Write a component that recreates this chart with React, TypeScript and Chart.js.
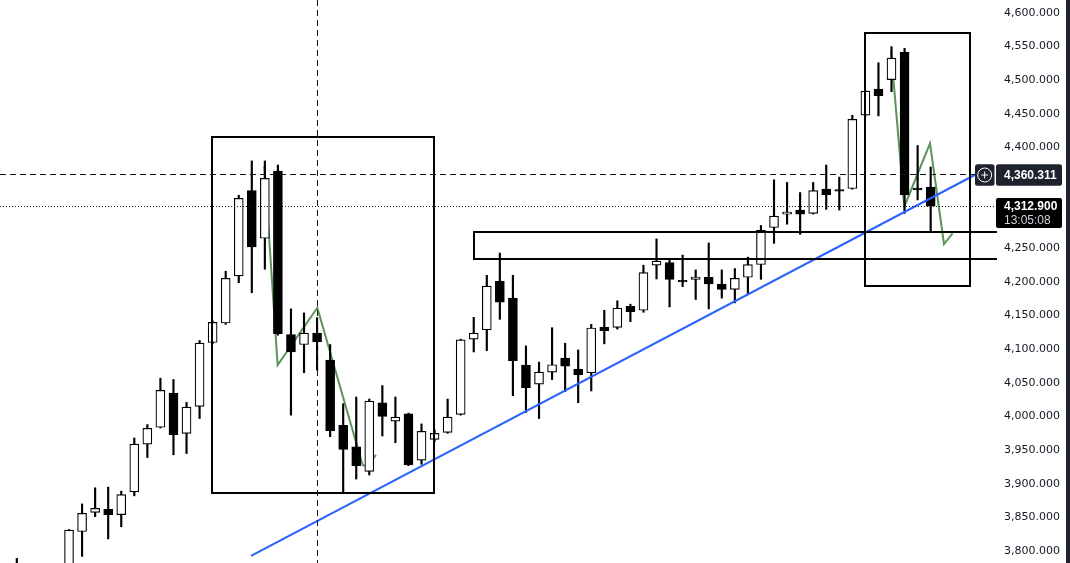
import React, { useEffect, useRef } from 'react';
import { Chart, registerables } from 'chart.js';

Chart.register(...registerables);

// ---- candle data (index 0..70) ----
const opens = [
  3770, 3760, 3750, 3765, 3775, 3829, 3857.5, 3862, 3854, 3888,
  3959, 3984, 4034.5, 3975, 4015, 4110, 4139, 4209, 4336, 4265,
  4365, 4122, 4107, 4124, 4084, 3987, 3955, 3918.5, 4020.5, 3993,
  4004, 3935, 3966, 3976.5, 4003, 4115, 4129, 4201, 4176, 4076.6,
  4048, 4066, 4087, 4070.6, 4065, 4133, 4132.6, 4164, 4158, 4225,
  4229, 4202.5, 4204, 4207, 4197, 4189, 4207, 4226, 4281, 4300.7,
  4307, 4302, 4338, 4337.5, 4339, 4448, 4487, 4501, 4542, 4339.5,
  4341,
];
const highs = [
  3789, 3775, 3772, 3778, 3832, 3870, 3894, 3895, 3889, 3968,
  3988, 4057, 4055, 4021, 4113, 4142, 4216, 4329, 4380, 4380,
  4374, 4160, 4154, 4147, 4107, 4019, 4029, 4026, 4046, 4029,
  4005, 3989, 3980, 4026, 4115, 4147.5, 4210, 4243, 4210, 4105,
  4081, 4132, 4109, 4099, 4137, 4158, 4172, 4167, 4225, 4264,
  4234, 4240, 4218, 4258, 4218, 4220, 4237, 4284, 4352, 4348,
  4333, 4348, 4374, 4356, 4448, 4485, 4526, 4550, 4547.5, 4403,
  4371,
];
const lows = [
  3755, 3740, 3735, 3750, 3765, 3792, 3851, 3818, 3836, 3882,
  3939, 3983, 3943, 3945, 3997, 4108, 4137, 4199, 4184, 4219,
  4121, 4002, 4065, 4069, 3970, 3886, 3907, 3913, 3971, 3961,
  3927, 3929, 3963, 3975, 4002, 4096, 4098, 4144.5, 4031, 4006,
  3997, 4055, 4037, 4020.5, 4038, 4108, 4130, 4141, 4155, 4204.5,
  4163, 4193, 4174, 4160, 4176, 4169, 4181, 4204, 4257.5, 4286,
  4271, 4301, 4308, 4307, 4338, 4447, 4447, 4483, 4302, 4322,
  4274,
];
const closes = [
  3778, 3750, 3765, 3770, 3831, 3856, 3863.5, 3854, 3884, 3959,
  3982.5, 4039, 3973, 4014, 4109, 4140, 4205.5, 4324.5, 4252, 4354,
  4123, 4096, 4124, 4111, 3979, 3951, 3927, 4023, 4000, 3999,
  3928, 3978, 3975, 3999, 4114, 4124, 4194, 4170, 4083, 4043,
  4066, 4077, 4075, 4062, 4131.6, 4127.6, 4161, 4156, 4214, 4231,
  4204, 4200, 4207.4, 4197, 4189, 4205.5, 4226, 4277, 4298, 4304,
  4301, 4336, 4330, 4335, 4442, 4484, 4477, 4533, 4330, 4337,
  4312.9,
];

// ---- price axis ----
const yTicks = [
  3800, 3850, 3900, 3950, 4000, 4050, 4100, 4150, 4200, 4250,
  4300, 4350, 4400, 4450, 4500, 4550, 4600,
];
const priceMin = 3782.16;
const priceMax = 4619.33;
const viewStart = -1.287;
const viewEnd = 75.08;

// ---- drawings (index, price) ----
const trendX = [17.94, 73.52];
const trendY = [3792.6, 4360.6];
const zigzagAX = [18.96, 19.98, 23.02, 26.49, 26.82, 27.51];
const zigzagAY = [4372.5, 4076.6, 4161.8, 3927.9, 3925.7, 3942.8];
const zigzagBX = [66.96, 67.98, 69.95, 71.02, 71.68];
const zigzagBY = [4543.5, 4312, 4406.2, 4256.5, 4272.4];
const boxLeft = [14.95, 35.02, 64.97];
const boxRight: (number | null)[] = [31.96, null, 73.01];
const boxTop = [4415.6, 4274.8, 4570.7];
const boxBottom = [3886.2, 4234.6, 4194.5];
const crosshairIndex = 23;
const crosshairPrice = 4360.311;
const lastPrice = closes[closes.length - 1];
const countdown = '13:05:08';

const fmt = (v: number) =>
  v.toLocaleString('en-US', { minimumFractionDigits: 3, maximumFractionDigits: 3 });

const idx = opens.map((_, i) => i);

function roundRect(ctx: CanvasRenderingContext2D, x: number, y: number, w: number, h: number, r: number) {
  ctx.beginPath();
  ctx.moveTo(x + r, y);
  ctx.lineTo(x + w - r, y);
  ctx.quadraticCurveTo(x + w, y, x + w, y + r);
  ctx.lineTo(x + w, y + h - r);
  ctx.quadraticCurveTo(x + w, y + h, x + w - r, y + h);
  ctx.lineTo(x + r, y + h);
  ctx.quadraticCurveTo(x, y + h, x, y + h - r);
  ctx.lineTo(x, y + r);
  ctx.quadraticCurveTo(x, y, x + r, y);
  ctx.closePath();
}

const overlayPlugin = {
  id: 'overlay',
  afterDatasetsDraw(chart: any) {
    const { ctx, chartArea: ca, scales } = chart;
    const xs = scales.x;
    const ys = scales.y;
    ctx.save();
    ctx.beginPath();
    ctx.rect(ca.left, ca.top, ca.right - ca.left, ca.bottom - ca.top);
    ctx.clip();

    // rectangles
    ctx.strokeStyle = '#000000';
    ctx.lineWidth = 2;
    for (let i = 0; i < boxLeft.length; i++) {
      const l = Math.round(xs.getPixelForValue(boxLeft[i]));
      const rv = boxRight[i];
      const r = rv == null ? ca.right + 10 : Math.round(xs.getPixelForValue(rv));
      const t = Math.round(ys.getPixelForValue(boxTop[i]));
      const b = Math.round(ys.getPixelForValue(boxBottom[i]));
      ctx.strokeRect(l, t, r - l, b - t);
    }

    // crosshair
    ctx.lineWidth = 1;
    ctx.strokeStyle = '#131722';
    ctx.setLineDash([6, 4]);
    const cx = Math.round(xs.getPixelForValue(crosshairIndex)) + 0.5;
    ctx.beginPath();
    ctx.moveTo(cx, ca.top);
    ctx.lineTo(cx, ca.bottom);
    ctx.stroke();
    const cy = Math.round(ys.getPixelForValue(crosshairPrice)) + 0.5;
    ctx.beginPath();
    ctx.moveTo(ca.left, cy);
    ctx.lineTo(ca.right - 22, cy);
    ctx.stroke();

    // last price dotted line
    ctx.setLineDash([1, 2]);
    const ly = Math.round(ys.getPixelForValue(lastPrice)) + 0.5;
    ctx.beginPath();
    ctx.moveTo(ca.left, ly);
    ctx.lineTo(ca.right - 2, ly);
    ctx.stroke();
    ctx.setLineDash([]);
    ctx.restore();
  },
  afterDraw(chart: any) {
    const { ctx, chartArea: ca, scales } = chart;
    const ys = scales.y;
    ctx.save();

    // crosshair price label + button
    const yc = ys.getPixelForValue(crosshairPrice);
    ctx.fillStyle = '#1e222d';
    roundRect(ctx, ca.right - 22, yc - 10, 19.5, 21.5, 2.5);
    ctx.fill();
    roundRect(ctx, ca.right - 1, yc - 10, 66, 21.5, 2.5);
    ctx.fill();
    const bx = ca.right - 12.3;
    const by = yc + 0.8;
    ctx.strokeStyle = '#ffffff';
    ctx.lineWidth = 1;
    ctx.beginPath();
    ctx.arc(bx, by, 7, 0, Math.PI * 2);
    ctx.stroke();
    ctx.beginPath();
    ctx.moveTo(bx - 3.5, by);
    ctx.lineTo(bx + 3.5, by);
    ctx.moveTo(bx, by - 3.5);
    ctx.lineTo(bx, by + 3.5);
    ctx.stroke();
    ctx.fillStyle = '#ffffff';
    ctx.font = 'bold 12px "Liberation Sans", Arial, sans-serif';
    ctx.textBaseline = 'middle';
    ctx.textAlign = 'left';
    ctx.fillText(fmt(crosshairPrice), ca.right + 7, yc + 1);

    // last price label
    const yl = ys.getPixelForValue(lastPrice);
    ctx.fillStyle = '#000000';
    roundRect(ctx, ca.right - 1, yl - 8, 66, 30, 2);
    ctx.fill();
    ctx.fillStyle = '#ffffff';
    ctx.fillText(fmt(lastPrice), ca.right + 7, yl + 0.8);
    ctx.fillStyle = '#d1d4dc';
    ctx.font = '12px "Liberation Sans", Arial, sans-serif';
    ctx.fillText(countdown, ca.right + 7, yl + 15);

    // right edge strip
    ctx.fillStyle = '#1e222d';
    ctx.fillRect(chart.width - 4, 0, 4, chart.height);
    ctx.restore();
  },
};

export default function App() {
  const ref = useRef<HTMLCanvasElement>(null);
  useEffect(() => {
    if (!ref.current) return;
    const bodyColors = idx.map((i) => (closes[i] >= opens[i] ? '#ffffff' : '#000000'));
    const chart = new Chart(ref.current, {
      type: 'bar',
      data: {
        datasets: [
          {
            type: 'line',
            data: zigzagAX.map((x, i) => ({ x, y: zigzagAY[i] })),
            borderColor: 'rgba(62,128,62,0.85)',
            borderWidth: 2,
            pointRadius: 0,
            tension: 0,
            order: 10,
          } as any,
          {
            type: 'line',
            data: zigzagBX.map((x, i) => ({ x, y: zigzagBY[i] })),
            borderColor: 'rgba(62,128,62,0.85)',
            borderWidth: 2,
            pointRadius: 0,
            tension: 0,
            order: 10,
          } as any,
          {
            type: 'bar',
            data: idx.map((i) => ({ x: i, y: [lows[i], highs[i]] })),
            backgroundColor: '#000000',
            borderWidth: 0,
            barThickness: 1.5,
            grouped: false,
            order: 5,
          } as any,
          {
            type: 'bar',
            data: idx.map((i) => ({ x: i, y: [opens[i], closes[i]] })),
            backgroundColor: bodyColors,
            borderColor: '#000000',
            borderWidth: 1.2,
            borderSkipped: false,
            barThickness: 9,
            grouped: false,
            order: 4,
          } as any,
          {
            type: 'line',
            data: trendX.map((x, i) => ({ x, y: trendY[i] })),
            borderColor: '#2962ff',
            borderWidth: 2,
            pointRadius: 0,
            tension: 0,
            order: 1,
          } as any,
        ],
      },
      options: {
        responsive: false,
        animation: false,
        events: [],
        layout: { padding: 0 },
        plugins: { legend: { display: false }, tooltip: { enabled: false } },
        scales: {
          x: {
            type: 'linear',
            min: viewStart,
            max: viewEnd,
            offset: false,
            display: false,
          },
          y: {
            type: 'linear',
            position: 'right',
            min: priceMin,
            max: priceMax,
            offset: false,
            grid: { display: false, drawTicks: false },
            border: { display: false },
            ticks: {
              padding: 7,
              color: '#131722',
              font: { family: '"DejaVu Sans", Verdana, sans-serif', size: 11 },
              callback: (v: any) => fmt(Number(v)),
            },
            afterBuildTicks: (scale: any) => {
              scale.ticks = yTicks.map((v) => ({ value: v }));
            },
            afterFit: (scale: any) => {
              scale.width = 73;
              scale.paddingTop = 0;
              scale.paddingBottom = 0;
            },
          },
        },
      } as any,
      plugins: [overlayPlugin],
    });
    return () => chart.destroy();
  }, []);
  return (
    <div style={{ position: 'fixed', left: 0, top: 0, width: 1070, height: 563, background: '#ffffff' }}>
      <canvas ref={ref} width={1070} height={563} style={{ display: 'block' }} />
    </div>
  );
}
